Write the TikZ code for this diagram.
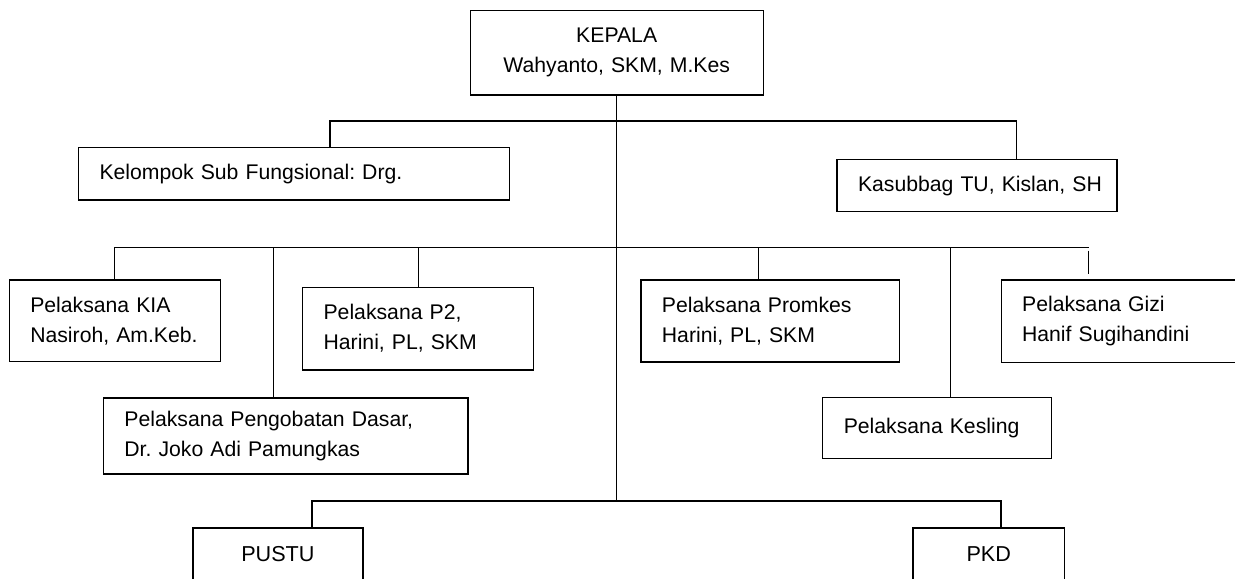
\documentclass[tikz,border=0pt]{standalone}
\usepackage{fontspec}
\setmainfont{Liberation Sans}
\usepackage{tikz}
\usetikzlibrary{positioning, calc}
\frenchspacing

\begin{document}
\begin{tikzpicture}[x=0.5pt, y=-0.5pt,
    orgbox/.style={draw, line width=0.6pt, inner xsep=10.5pt, inner ysep=0pt, anchor=north west, align=left, font=\fontsize{10.6}{15}\selectfont},
    unitbox/.style={orgbox, align=center, font=\fontsize{10.8}{15}\selectfont},
    link/.style={line width=0.6pt}]
                \useasboundingbox (0,0) rectangle (1235,578);
                % kepala dan staf
                \node[orgbox, align=center, text width=125.4pt, minimum height=42.15pt] (kepala) at (469.7,10) {KEPALA\\Wahyanto, SKM, M.Kes};
                \node[orgbox, text width=194.5pt, minimum height=26.3pt] (kelompok) at (77.9,146.7) {Kelompok Sub Fungsional: Drg.};
                \node[orgbox, text width=119pt, minimum height=26pt] (kasubbag) at (836.4,159) {\mbox{Kasubbag TU, Kislan, SH}};
                % pelaksana
                \node[orgbox, text width=84.55pt, minimum height=40.85pt] (kia) at (8.7,279.3) {Pelaksana KIA\\Nasiroh, Am.Keb.};
                \node[orgbox, text width=94.3pt, minimum height=41.3pt] (ptwo) at (302,286.7) {Pelaksana P2,\\Harini, PL, SKM};
                \node[orgbox, text width=161.3pt, minimum height=38pt] (pengobatan) at (102.8,397.3) {Pelaksana Pengobatan Dasar,\\Dr. Joko Adi Pamungkas};
                \node[orgbox, text width=108.3pt, minimum height=41pt] (promkes) at (640.3,279.3) {Pelaksana Promkes\\Harini, PL, SKM};
                \node[orgbox, text width=101.25pt, minimum height=41.1pt] (gizi) at (1000.5,279.3) {Pelaksana Gizi\\Hanif Sugihandini};
                \node[orgbox, text width=93.25pt, minimum height=30.35pt] (kesling) at (822.2,397) {Pelaksana Kesling};
                % jaringan
                \node[unitbox, text width=64pt, minimum height=25.85pt] (pustu) at (192.3,527.3) {PUSTU};
                \node[unitbox, text width=54.85pt, minimum height=25.85pt] (pkd) at (912.3,527.3) {PKD};
                % garis
                \coordinate (busAl) at (330,121);
                \coordinate (busAr) at (1016.7,121);
                \coordinate (busBl) at (114.7,247.5);
                \coordinate (busBr) at (1088.5,247.5);
                \coordinate (busCl) at (312.3,500.7);
                \coordinate (busCr) at (1000.7,500.7);
                \coordinate (dropP) at (273.2,247.5);
                \coordinate (dropT) at (418.3,247.5);
                \coordinate (dropM) at (758.5,247.5);
                \coordinate (dropK) at (950.3,247.5);
                \draw[link] (kepala.south) -- (kepala.south |- busCl);
                \draw[link] (kelompok.north -| busAl) -- (busAl) -- (busAr) -- (kasubbag.north -| busAr);
                \draw[link] (kia.north -| busBl) -- (busBl) -- (busBr);
                \draw[link] (dropP) -- (pengobatan.north -| dropP);
                \draw[link] (dropT) -- (ptwo.north -| dropT);
                \draw[link] (dropM) -- (promkes.north -| dropM);
                \draw[link] (dropK) -- (kesling.north -| dropK);
                \draw[link, shorten <=1.5pt, shorten >=2.5pt] (busBr) -- (gizi.north -| busBr);
                \draw[link, line width=0.9pt] (pustu.north -| busCl) -- (busCl) -- (busCr) -- (pkd.north -| busCr);
            \end{tikzpicture}
\end{document}
